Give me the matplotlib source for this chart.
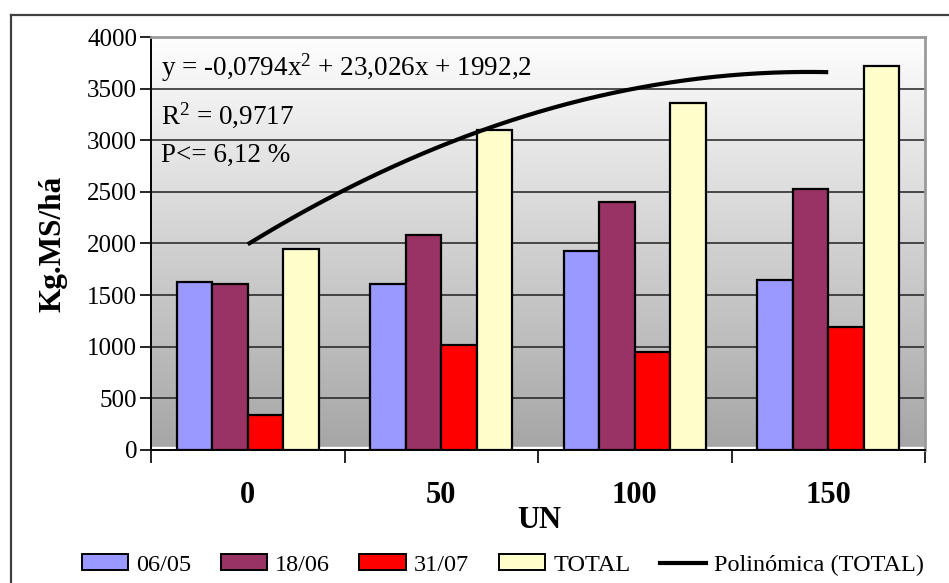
import numpy as np
import matplotlib
matplotlib.use("Agg")
import matplotlib.pyplot as plt
from matplotlib.patches import Rectangle
from matplotlib.lines import Line2D

plt.rcParams['font.family'] = ['Liberation Serif', 'DejaVu Serif']
plt.rcParams['mathtext.fontset'] = 'custom'
plt.rcParams['mathtext.rm'] = 'Liberation Serif'
plt.rcParams['mathtext.it'] = 'Liberation Serif'

# nitrogen dose (UN) and dry matter yield per cut date
un = [0, 50, 100, 150]
cut_0605 = [1630, 1610, 1930, 1645]
cut_1806 = [1610, 2080, 2400, 2530]
cut_3107 = [340, 1020, 950, 1190]
total = [1950, 3100, 3360, 3720]

series_names = ['06/05', '18/06', '31/07', 'TOTAL']
series_colors = ['#9999FF', '#993366', '#FF0000', '#FFFFCC']

# polynomial trend fitted on TOTAL
poly_a, poly_b, poly_c = -0.0794, 23.026, 1992.2
eq_text = 'y = -0,0794x$^{\\mathrm{2}}$ + 23,026x + 1992,2'
r2_text = 'R$^{\\mathrm{2}}$ = 0,9717'
p_text = 'P<= 6,12 %'

fig = plt.figure(figsize=(9.49, 5.83), dpi=100)
ax = fig.add_axes([151 / 949, 1 - 450 / 583, 774 / 949, 413 / 583])

ax.set_xlim(-25, 175)
ax.set_ylim(0, 4000)

# grey gradient background of the plot area
grad = np.linspace(0, 1, 256).reshape(-1, 1)
ax.imshow(grad, cmap=matplotlib.colors.LinearSegmentedColormap.from_list(
    'bg', ['#a6a6a6', '#fefefe']), aspect='auto', origin='lower',
    extent=(-25, 175, 30, 4000), zorder=0)
ax.axhspan(0, 30, color='white', zorder=0.5)

for yv in range(500, 4001, 500):
    ax.axhline(yv, color='#202020', lw=1.1, zorder=1)

w = 9.15
for i, (vals, col) in enumerate(zip([cut_0605, cut_1806, cut_3107, total], series_colors)):
    ax.bar(np.array(un) + (i - 1.5) * w, vals, width=w, color=col,
           edgecolor='black', linewidth=1.6, zorder=2)

xs = np.linspace(un[0], un[-1], 200)
ax.plot(xs, poly_a * xs ** 2 + poly_b * xs + poly_c, color='black', lw=3,
        zorder=3, solid_capstyle='butt')

ax.text(-22.5, 3700, eq_text, fontsize=19.5, va='center', ha='left', zorder=4)
ax.text(-22.5, 3240, r2_text, fontsize=19.5, va='center', ha='left', zorder=4)
ax.text(-22.5, 2850, p_text, fontsize=19.5, va='center', ha='left', zorder=4)

ax.set_yticks(range(0, 4001, 500))
ax.set_yticklabels([str(v) for v in range(0, 4001, 500)], fontsize=18)
ax.set_xticks([-25, 25, 75, 125, 175])
ax.set_xticklabels([])
ax.set_xticks(un, minor=True)
ax.set_xticklabels([str(v) for v in un], minor=True, fontsize=22, fontweight='bold')
ax.tick_params(axis='x', which='minor', length=0, pad=22)
ax.tick_params(axis='x', which='major', length=9, width=1.2, direction='out')
ax.tick_params(axis='y', length=8, width=1.2, direction='out', pad=2)

for side in ['top', 'right']:
    ax.spines[side].set_color('#9a9a9a')
    ax.spines[side].set_linewidth(2)
for side in ['left', 'bottom']:
    ax.spines[side].set_color('black')
    ax.spines[side].set_linewidth(1.4)

ax.set_ylabel('Kg.MS/há', fontsize=22.5, fontweight='bold', labelpad=14)
fig.text(539 / 949, 1 - 521 / 583, 'UN', fontsize=22, fontweight='bold',
         ha='center', va='center')

# outer chart frame
fig.add_artist(Line2D([11 / 949, 11 / 949], [0, 1 - 15 / 583], color='#404040', lw=1.6))
fig.add_artist(Line2D([11 / 949, 1], [1 - 15 / 583, 1 - 15 / 583], color='#404040', lw=1.6))

handles = [Rectangle((0, 0), 1, 1, facecolor=c, edgecolor='black', lw=1.4)
           for c in series_colors]
handles.append(Line2D([], [], color='black', lw=3))
labels = series_names + ['Polinómica (TOTAL)']
fig.legend(handles, labels, loc='center', bbox_to_anchor=(503 / 949, 1 - 565 / 583),
           ncol=5, frameon=False, fontsize=17.5, handlelength=1.9, handleheight=0.6,
           handletextpad=0.35, columnspacing=1.2, borderpad=0, borderaxespad=0)

fig.savefig('out.png', dpi=100)
